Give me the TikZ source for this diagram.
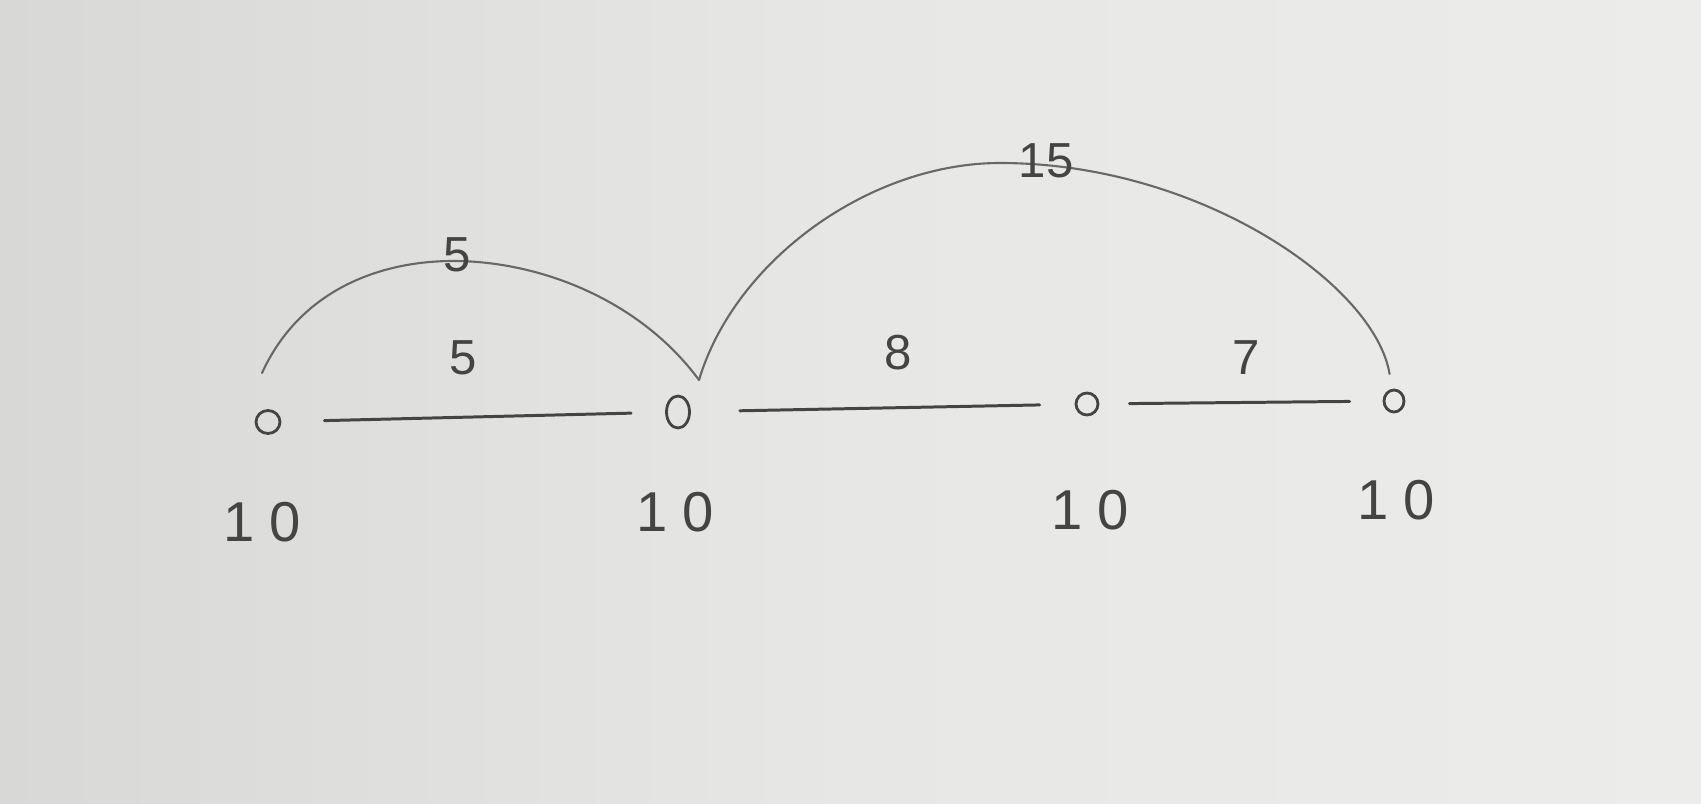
\documentclass[tikz,border=0pt]{standalone}
\usepackage{fontspec}
\setmainfont{Liberation Sans}
\usetikzlibrary{shapes.geometric,calc}
\definecolor{paperL}{HTML}{D8D8D6}
\definecolor{paperM}{HTML}{E7E7E5}
\definecolor{paperR}{HTML}{ECECEA}
\definecolor{pencil}{HTML}{444444}
\definecolor{pencilL}{HTML}{686868}
\begin{document}
\begin{tikzpicture}[x=0.02cm,y=-0.02cm,
  vtx/.style={draw=pencil, ellipse, line width=1.6pt, inner sep=0pt},
  edg/.style={draw=pencil, line width=1.7pt, line cap=round},
  arcedge/.style={draw=pencilL, line width=1.2pt, line cap=round},
  wlab/.style={text=pencil, font=\fontsize{28}{30}\selectfont, inner sep=0pt},
  vlab/.style={text=pencil, font=\fontsize{32}{34}\selectfont\addfontfeatures{LetterSpace=25}, inner sep=0pt}]
\shade[left color=paperL, right color=paperR, middle color=paperM] (0,0) rectangle (1701,804);
\useasboundingbox (0,0) rectangle (1701,804);
% vertices
\node[vtx, minimum width=0.48cm, minimum height=0.46cm] (n1) at (268,422) {};
\node[vtx, minimum width=0.46cm, minimum height=0.64cm] (n2) at (678,412) {};
\node[vtx, minimum width=0.44cm, minimum height=0.44cm] (n3) at (1087,404) {};
\node[vtx, minimum width=0.40cm, minimum height=0.44cm] (n4) at (1394,401) {};
\coordinate (j2) at ($(n2)+(21,-32)$);
% vertex labels
\node[vlab] (l1) at (262,522) {10};
\node[vlab] (l2) at (675,512) {10};
\node[vlab] (l3) at (1090,510) {10};
\node[vlab] (l4) at (1396,500) {10};
% straight edges
\draw[edg, shorten <=0.86cm, shorten >=0.68cm] (n1) -- (n2);
\draw[edg, shorten <=0.98cm, shorten >=0.70cm] (n2) -- (n3);
\draw[edg, shorten <=0.60cm, shorten >=0.66cm] (n3) -- (n4);
% arcs
\draw[arcedge] ($(n1)+(-6,-49)$) .. controls (300,290) and (380,261) .. (453,261)
  .. controls (540,261) and (640,300) .. (j2);
\draw[arcedge, shorten >=0.3cm] (j2) .. controls (735,260) and (870,163) .. (1000,163)
  .. controls (1200,163) and (1375,285) .. (n4);
% edge weights
\node[wlab] (w12) at (463,358) {5};
\node[wlab] (w12b) at (457,255) {5};
\node[wlab] (w23) at (898,353) {8};
\node[wlab] (w34) at (1246,358) {7};
\node[wlab] (w24) at (1046,161) {15};
\end{tikzpicture}
\end{document}
